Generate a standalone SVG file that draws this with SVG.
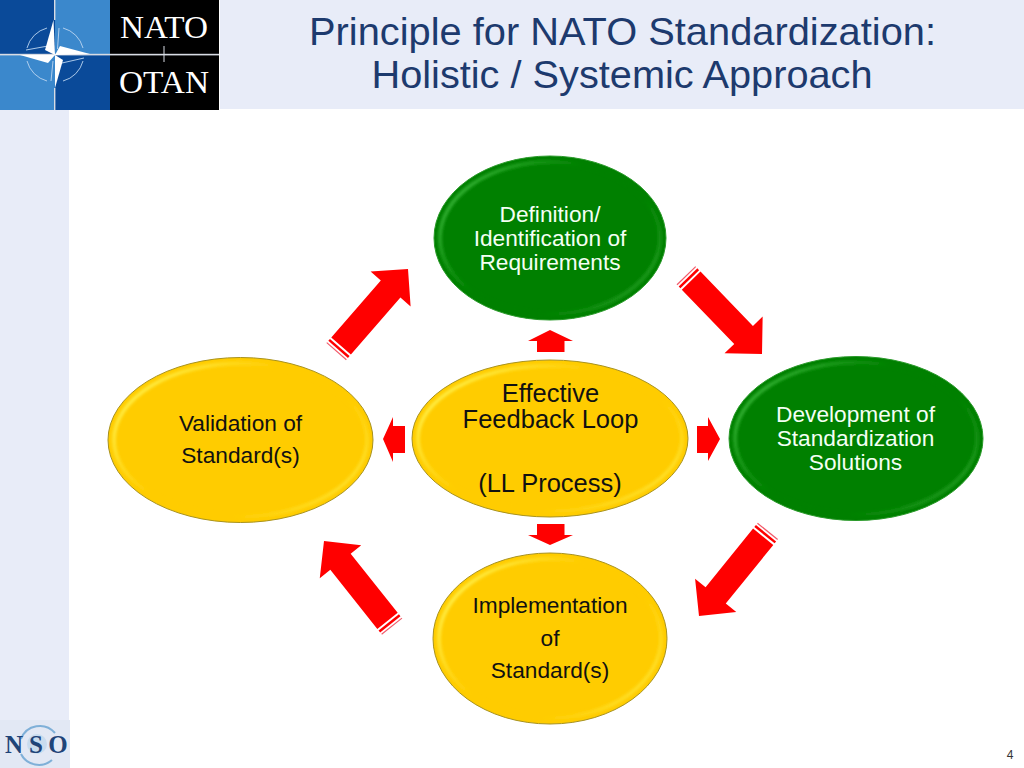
<svg xmlns="http://www.w3.org/2000/svg" width="1024" height="768" viewBox="0 0 1024 768">
<defs>
<style>
text{font-family:"Liberation Sans",Arial,sans-serif;text-anchor:middle}
.t{font-size:39px;fill:#1d3a6e}
.g{font-size:22.7px;fill:#f4fff4}
.y{font-size:22.7px;fill:#111}
.c{font-size:25.5px;fill:#111}
.logo{font-family:"Liberation Serif","Times New Roman",serif;fill:#fff}
.nso{font-family:"Liberation Serif","Times New Roman",serif;font-weight:bold;fill:#1f4478;font-size:25px}
.red{fill:#ff0000}
.ye{fill:#ffcc00;stroke:#a8921e;stroke-width:1}
.gr{fill:#008000;stroke:#2a9a2a;stroke-width:1}
.hy{fill:none;stroke:url(#hiY);stroke-width:3.5;filter:url(#soft)}
.hg{fill:none;stroke:url(#hiG);stroke-width:3.5;filter:url(#soft)}
</style>
<linearGradient id="hiY" x1="0" y1="0.3" x2="1" y2="0.9"><stop offset="0" stop-color="#fff04a"/><stop offset="0.35" stop-color="#ffcc00"/><stop offset="0.65" stop-color="#ffcc00"/><stop offset="1" stop-color="#ffe93a"/></linearGradient>
<linearGradient id="hiG" x1="0" y1="0.3" x2="1" y2="0.9"><stop offset="0" stop-color="#36b536"/><stop offset="0.35" stop-color="#008000"/><stop offset="0.65" stop-color="#008000"/><stop offset="1" stop-color="#2aa52a"/></linearGradient>
<filter id="soft" x="-5%" y="-5%" width="110%" height="110%"><feGaussianBlur stdDeviation="1.5"/></filter>
<g id="bigArrow">
<polygon class="red" points="0,0 -26.5,26.5 -26.5,13 -102,13 -102,-13 -26.5,-13 -26.5,-26.500"/>
<rect class="red" x="-106.5" y="-13" width="2.5" height="26"/>
<rect x="-109.5" y="-13" width="1.2" height="26" fill="#f25a6a"/>
</g>
</defs>
<rect width="1024" height="768" fill="#fff"/>
<rect x="220" y="0" width="804" height="109" fill="#e8ecf8"/>
<rect x="0" y="109" width="69" height="659" fill="#e8ecf8"/>

<g id="nato-logo">
<rect x="0" y="0" width="55" height="55" fill="#0a4a99"/>
<rect x="55" y="0" width="55" height="55" fill="#3b88cc"/>
<rect x="0" y="55" width="55" height="55" fill="#3b88cc"/>
<rect x="55" y="55" width="55" height="55" fill="#0a4a99"/>
<rect x="110" y="0" width="109" height="110" fill="#000"/>
<rect x="0" y="53.800" width="219" height="1.600" fill="#d8dce4"/>
<rect x="54" y="0" width="1.400" height="20" fill="#d8dce4"/>
<rect x="54" y="88" width="1.400" height="22" fill="#d8dce4"/>
<rect x="163.500" y="46" width="1" height="16" fill="#d8dce4"/>
<g fill="none" stroke="#bcd6f0" stroke-width="0.9">
<path d="M27,48 A28,28 0 0 1 47,28"/>
<path d="M63,28 A28,28 0 0 1 83,48"/>
<path d="M83,61 A28,28 0 0 1 63,81"/>
<path d="M47,81 A28,28 0 0 1 27,61"/>
<path d="M59,28 L57.500,49 M26,50 L48,46 M84,58 L62,63 M51,81 L53,61"/>
</g>
<polygon points="53.500,20 45,50 55,55" fill="#fff"/>
<polygon points="90,54 60,46 55,55" fill="#fff"/>
<polygon points="20,55 48,63 55,55" fill="#fff"/>
<polygon points="55,88 63,60 55,55" fill="#fff"/>
<text class="logo" x="164" y="38" font-size="32" textLength="88" lengthAdjust="spacingAndGlyphs">NATO</text>
<text class="logo" x="164" y="93" font-size="32" textLength="90" lengthAdjust="spacingAndGlyphs">OTAN</text>
</g>

<g id="title">
<text class="t" x="622.500" y="45" textLength="627" lengthAdjust="spacingAndGlyphs">Principle for NATO Standardization:</text>
<text class="t" x="622" y="88" textLength="501" lengthAdjust="spacingAndGlyphs">Holistic / Systemic Approach</text>
</g>

<g id="connectors">
<use href="#bigArrow" transform="translate(762,354) rotate(46)"/>
<use href="#bigArrow" transform="translate(699,616) rotate(129)"/>
<use href="#bigArrow" transform="translate(324,541) rotate(231.5)"/>
<use href="#bigArrow" transform="translate(408,269) rotate(-49)"/>
<polygon class="red" points="550,330 573,341 564.500,341 564.500,352 537,352 537,341 528,341"/>
<polygon class="red" points="550,545 573,535 564.500,535 564.500,524 537,524 537,535 528,535"/>
<polygon class="red" points="383,439 393,417 393,426 405,426 405,453 393,453 393,462"/>
<polygon class="red" points="720,439 708,417 708,426 697,426 697,453 708,453 708,461"/>
</g>

<g id="node-definition">
<ellipse class="gr" cx="550" cy="238" rx="116" ry="82"/>
<ellipse class="hg" cx="550" cy="238" rx="110" ry="76"/>
<text class="g" x="550" y="222">Definition/</text>
<text class="g" x="550" y="246">Identification of</text>
<text class="g" x="550" y="270">Requirements</text>
</g>
<g id="node-development">
<ellipse class="gr" cx="856" cy="438.500" rx="127" ry="82"/>
<ellipse class="hg" cx="856" cy="438.500" rx="121" ry="76"/>
<text class="g" x="855.500" y="422">Development of</text>
<text class="g" x="855.500" y="446">Standardization</text>
<text class="g" x="855.500" y="470">Solutions</text>
</g>
<g id="node-validation">
<ellipse class="ye" cx="240.500" cy="440" rx="132.500" ry="82.500"/>
<ellipse class="hy" cx="240.500" cy="440" rx="126.500" ry="76.500"/>
<text class="y" x="240.500" y="431">Validation of</text>
<text class="y" x="240.500" y="463">Standard(s)</text>
</g>
<g id="node-feedback">
<ellipse class="ye" cx="550" cy="438.500" rx="138" ry="78.500"/>
<ellipse class="hy" cx="550" cy="438.500" rx="132" ry="72.500"/>
<text class="c" x="550.500" y="402">Effective</text>
<text class="c" x="550.500" y="428">Feedback Loop</text>
<text class="c" x="550" y="492">(LL Process)</text>
</g>
<g id="node-implementation">
<ellipse class="ye" cx="550" cy="638.500" rx="117" ry="85.500"/>
<ellipse class="hy" cx="550" cy="638.500" rx="111" ry="79.500"/>
<text class="y" x="550" y="613">Implementation</text>
<text class="y" x="550" y="646">of</text>
<text class="y" x="550" y="678">Standard(s)</text>
</g>

<g id="nso-logo">
<rect x="0" y="720" width="70" height="48" fill="#e2e8f4"/>
<path d="M21,739 A20,20 0 0 1 55,733" fill="none" stroke="#7fb0d8" stroke-width="2"/>
<path d="M21,754 A20,20 0 0 0 52,760" fill="none" stroke="#7fb0d8" stroke-width="2"/>
<circle cx="37" cy="744" r="10" fill="#c9dcee"/>
<text class="nso" x="14" y="753">N</text>
<text class="nso" x="36" y="753">S</text>
<text class="nso" x="58" y="753">O</text>
</g>
<text x="1010" y="759" font-size="12" fill="#333">4</text>
</svg>
